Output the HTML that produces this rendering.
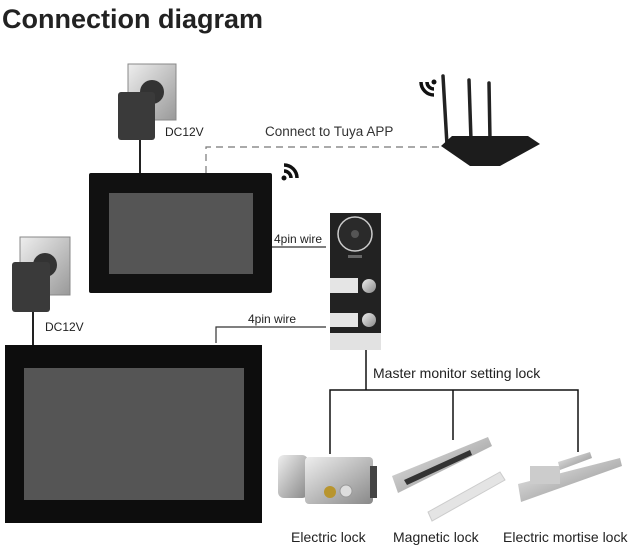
<!DOCTYPE html>
<html><head><style>
body{margin:0;background:#fff;}
svg{display:block;font-family:"Liberation Sans",sans-serif;}
</style></head><body>
<svg width="640" height="552" viewBox="0 0 640 552" xmlns="http://www.w3.org/2000/svg">
<defs>
<linearGradient id="pl" x1="0" y1="0" x2="1" y2="1"><stop offset="0" stop-color="#eee"/><stop offset="1" stop-color="#999"/></linearGradient>
<linearGradient id="met" x1="0" y1="0" x2="1" y2="1"><stop offset="0" stop-color="#eee"/><stop offset="0.5" stop-color="#bbb"/><stop offset="1" stop-color="#888"/></linearGradient>
</defs>
<text x="2" y="28" font-size="27" font-weight="bold" fill="#222">Connection diagram</text>

<!-- top adapter -->
<rect x="128" y="64" width="48" height="56" fill="url(#pl)" stroke="#888"/>
<circle cx="152" cy="92" r="12" fill="#333"/>
<rect x="118" y="92" width="37" height="48" rx="3" fill="#3a3a3a"/>
<line x1="140" y1="140" x2="140" y2="174" stroke="#222" stroke-width="2"/>
<text x="165" y="136" font-size="12" fill="#222">DC12V</text>

<!-- dashed -->
<path d="M206 173 V147 H442" fill="none" stroke="#777" stroke-width="1.2" stroke-dasharray="7,5"/>
<text x="265" y="136" font-size="13.5" fill="#333">Connect to Tuya APP</text>

<!-- wifi icons -->
<g fill="none" stroke="#111" stroke-width="3.5">
<circle cx="284" cy="178" r="2.5" fill="#111" stroke="none"/>
<path d="M284 171 a7 7 0 0 1 7 7"/><path d="M284 165 a13 13 0 0 1 13 13"/>
<circle cx="434" cy="82" r="2.5" fill="#111" stroke="none"/>
<path d="M427 82 a7 7 0 0 0 7 7"/><path d="M421 82 a13 13 0 0 0 13 13"/>
</g>

<!-- router -->
<g stroke="#222" stroke-width="3.5" stroke-linecap="round">
<line x1="443" y1="76" x2="447" y2="145"/><line x1="469" y1="80" x2="471" y2="140"/><line x1="489" y1="83" x2="490" y2="140"/>
</g>
<path d="M441 146 L452 136 L528 136 L540 144 L500 166 L470 166 Z" fill="#1c1c1c"/>

<!-- top monitor -->
<rect x="89" y="173" width="183" height="120" rx="2" fill="#111"/>
<rect x="109" y="193" width="144" height="81" fill="#555"/>

<!-- 4pin wires -->
<line x1="272" y1="247" x2="326" y2="247" stroke="#333" stroke-width="1.2"/>
<text x="274" y="243" font-size="12" fill="#222">4pin wire</text>
<path d="M216 343 V327 H326" fill="none" stroke="#333" stroke-width="1.2"/>
<text x="248" y="323" font-size="12" fill="#222">4pin wire</text>

<!-- doorbell -->
<rect x="330" y="213" width="51" height="137" fill="#222"/>
<rect x="330" y="333" width="51" height="17" fill="#e2e2e2"/>
<rect x="330" y="278" width="28" height="15" fill="#e5e5e5"/>
<rect x="330" y="313" width="28" height="14" fill="#e5e5e5"/>
<circle cx="369" cy="286" r="7" fill="url(#met)"/>
<circle cx="369" cy="320" r="7" fill="url(#met)"/>
<circle cx="355" cy="234" r="17" fill="#2a2a2a" stroke="#ccc" stroke-width="1.5"/>
<circle cx="355" cy="234" r="4" fill="#555"/>
<rect x="348" y="255" width="14" height="3" fill="#666"/>

<!-- bottom adapter -->
<rect x="20" y="237" width="50" height="58" fill="url(#pl)" stroke="#888"/>
<circle cx="45" cy="265" r="12" fill="#333"/>
<rect x="12" y="262" width="38" height="50" rx="3" fill="#3a3a3a"/>
<line x1="33" y1="312" x2="33" y2="346" stroke="#222" stroke-width="2"/>
<text x="45" y="331" font-size="12" fill="#222">DC12V</text>

<!-- bottom monitor -->
<rect x="5" y="345" width="257" height="178" fill="#0d0d0d"/>
<rect x="24" y="368" width="220" height="132" fill="#555"/>

<!-- lock tree -->
<g stroke="#111" stroke-width="1.5" fill="none">
<path d="M366 350 V390"/><path d="M330 454 V390 H578 V452"/><path d="M453 390 V440"/>
</g>
<text x="373" y="378" font-size="14" fill="#222">Master monitor setting lock</text>

<!-- electric lock -->
<rect x="278" y="455" width="30" height="43" rx="6" fill="url(#met)"/>
<rect x="305" y="457" width="68" height="47" rx="4" fill="url(#met)"/>
<rect x="370" y="466" width="7" height="32" fill="#444"/>
<circle cx="330" cy="492" r="6" fill="#b8952e"/>
<circle cx="346" cy="491" r="6" fill="#ddd" stroke="#999"/>
<!-- magnetic lock -->
<path d="M392 476 L488 437 L492 446 L398 493 Z" fill="url(#met)"/>
<path d="M404 480 L470 450 L472 455 L407 485 Z" fill="#333"/>
<path d="M428 512 L500 472 L505 480 L432 521 Z" fill="#e4e4e4" stroke="#ccc"/>
<!-- mortise lock -->
<path d="M518 484 L620 458 L622 466 L521 502 Z" fill="url(#met)"/>
<rect x="530" y="466" width="30" height="18" fill="#ccc"/>
<path d="M558 462 L590 452 L592 458 L560 470 Z" fill="url(#met)"/>

<text x="291" y="542" font-size="14" fill="#222">Electric lock</text>
<text x="393" y="542" font-size="14" fill="#222">Magnetic lock</text>
<text x="503" y="542" font-size="14" fill="#222">Electric mortise lock</text>
</svg>
</body></html>
